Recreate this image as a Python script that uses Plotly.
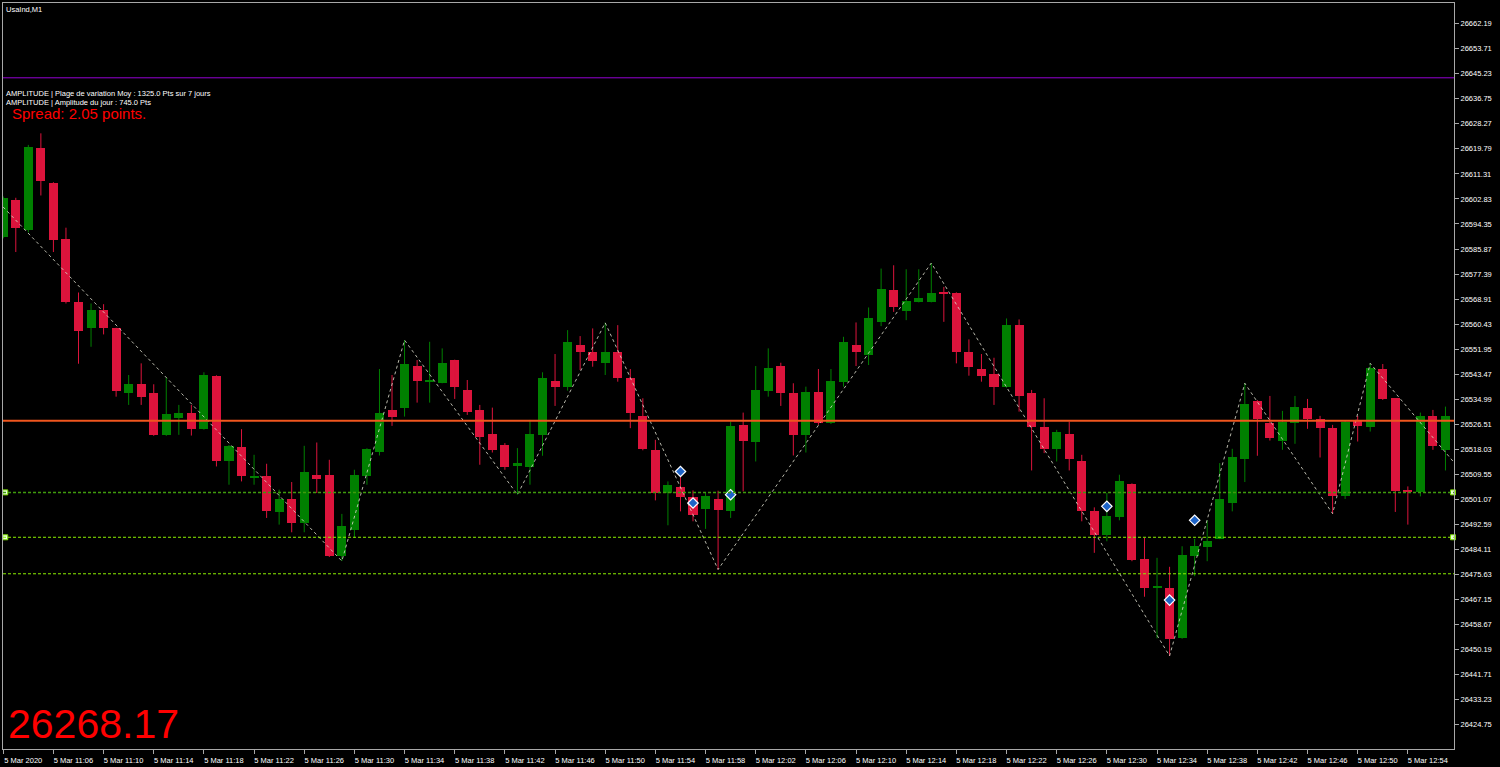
import plotly.graph_objects as go

# ---------------- data ----------------
opens = [26589.91, 26602.31, 26592.18, 26619.97, 26608.15, 26589.37, 26567.86, 26558.98, 26565.16, 26558.98,
         26537.02, 26540.06, 26537.02, 26522.94, 26528.78, 26530.27, 26524.97, 26542.97, 26513.92, 26518.78,
         26508.70, 26509.09, 26496.70, 26501.22, 26493.12, 26509.33, 26509.33, 26482.07, 26490.85, 26508.86,
         26517.09, 26531.38, 26531.96, 26546.24, 26541.18, 26540.60, 26548.27, 26538.14, 26531.38, 26523.18,
         26519.46, 26512.23, 26511.89, 26522.94, 26541.18, 26539.05, 26553.34, 26551.07, 26547.16, 26551.07,
         26542.09, 26529.36, 26517.87, 26503.25, 26505.27, 26501.89, 26497.84, 26501.22, 26497.03, 26526.32,
         26520.68, 26537.90, 26546.24, 26537.02, 26522.94, 26537.36, 26526.89, 26540.94, 26553.34, 26549.96,
         26561.21, 26572.15, 26564.92, 26567.96, 26567.96, 26571.17, 26571.00, 26551.07, 26545.13, 26543.54,
         26539.05, 26560.09, 26537.02, 26525.54, 26518.21, 26523.18, 26514.16, 26497.03, 26488.93, 26495.14,
         26506.39, 26481.06, 26471.36, 26471.16, 26454.04, 26481.83, 26485.01, 26487.81, 26499.87, 26514.83,
         26534.52, 26527.09, 26521.01, 26526.89, 26532.16, 26528.24, 26525.40, 26502.34, 26527.77, 26525.74,
         26545.13, 26535.33, 26504.36, 26503.45, 26529.36, 26517.87]
highs = [26603.66, 26603.22, 26621.12, 26625.04, 26608.49, 26593.09, 26571.14, 26567.42, 26567.18, 26559.20,
         26543.20, 26547.15, 26540.06, 26542.29, 26533.07, 26533.07, 26544.12, 26543.10, 26519.50, 26524.86,
         26516.18, 26513.14, 26504.36, 26506.96, 26519.22, 26520.34, 26514.49, 26496.16, 26511.12, 26518.40,
         26545.23, 26543.20, 26555.02, 26548.27, 26554.45, 26552.22, 26548.40, 26541.51, 26533.07, 26532.16,
         26520.14, 26518.45, 26528.00, 26544.12, 26550.30, 26558.40, 26556.38, 26558.98, 26560.87, 26560.09,
         26545.23, 26535.33, 26521.25, 26507.17, 26512.23, 26504.13, 26503.45, 26504.02, 26527.43, 26530.47,
         26546.24, 26552.22, 26547.36, 26540.40, 26539.25, 26545.23, 26545.23, 26556.14, 26561.00, 26566.07,
         26579.24, 26580.36, 26579.01, 26579.01, 26581.13, 26573.03, 26571.20, 26555.26, 26550.30, 26549.05,
         26562.35, 26562.02, 26538.14, 26535.33, 26524.63, 26527.43, 26516.18, 26498.38, 26503.25, 26509.43,
         26506.50, 26488.05, 26481.29, 26478.25, 26485.21, 26487.71, 26493.99, 26513.38, 26518.21, 26540.40,
         26534.70, 26536.11, 26531.04, 26536.11, 26535.10, 26529.36, 26526.32, 26527.60, 26529.36, 26547.15,
         26546.92, 26535.40, 26505.48, 26530.47, 26531.38, 26532.50]
lows = [26589.48, 26584.85, 26591.50, 26604.00, 26584.85, 26567.42, 26547.02, 26552.76, 26556.95, 26535.87,
        26533.07, 26533.07, 26522.60, 26522.60, 26522.94, 26522.70, 26524.70, 26512.23, 26506.05, 26507.17,
        26506.05, 26494.80, 26492.54, 26489.94, 26489.94, 26503.25, 26481.56, 26480.20, 26488.05, 26506.05,
        26515.95, 26525.98, 26529.12, 26533.85, 26533.85, 26540.40, 26535.10, 26529.69, 26512.81, 26516.96,
        26511.12, 26502.67, 26506.05, 26515.85, 26532.73, 26537.90, 26544.89, 26546.01, 26543.20, 26540.94,
        26525.20, 26517.70, 26500.75, 26492.31, 26497.03, 26493.66, 26491.09, 26477.34, 26494.80, 26503.79,
        26513.92, 26535.87, 26532.73, 26515.95, 26516.96, 26526.32, 26526.60, 26539.25, 26546.24, 26546.58,
        26559.75, 26564.58, 26561.78, 26567.80, 26567.80, 26561.21, 26547.15, 26542.97, 26540.94, 26533.07,
        26538.90, 26530.81, 26510.88, 26516.76, 26513.92, 26510.88, 26493.66, 26482.98, 26486.90, 26493.99,
        26480.15, 26468.12, 26454.04, 26448.06, 26453.90, 26475.08, 26480.15, 26487.60, 26497.03, 26506.96,
        26515.85, 26521.01, 26517.87, 26519.90, 26524.97, 26515.27, 26496.26, 26501.22, 26520.68, 26524.05,
        26534.76, 26496.83, 26492.54, 26502.10, 26517.87, 26510.88]
closes = [26603.22, 26593.09, 26620.31, 26609.06, 26589.04, 26567.96, 26558.17, 26565.16, 26558.98, 26537.80,
          26540.27, 26535.87, 26522.94, 26530.03, 26530.27, 26524.86, 26543.20, 26513.92, 26519.33, 26508.86,
          26508.90, 26497.03, 26501.22, 26493.12, 26510.20, 26508.08, 26481.83, 26492.20, 26509.43, 26518.11,
          26530.27, 26529.12, 26546.92, 26541.28, 26541.25, 26547.36, 26539.05, 26530.81, 26522.16, 26517.87,
          26511.89, 26513.38, 26523.18, 26542.09, 26539.05, 26554.25, 26551.07, 26548.03, 26551.07, 26542.09,
          26530.27, 26518.21, 26503.25, 26506.05, 26501.89, 26495.92, 26502.10, 26497.37, 26525.98, 26521.01,
          26538.14, 26545.47, 26537.02, 26522.94, 26537.36, 26527.09, 26541.18, 26554.25, 26551.07, 26562.35,
          26572.25, 26566.07, 26568.20, 26569.45, 26571.00, 26571.07, 26551.07, 26546.01, 26542.97, 26539.05,
          26560.09, 26536.21, 26525.74, 26518.11, 26523.85, 26514.83, 26497.03, 26488.93, 26495.34, 26507.17,
          26480.72, 26470.93, 26471.60, 26453.94, 26482.41, 26485.21, 26487.14, 26501.22, 26515.27, 26533.41,
          26528.24, 26521.82, 26527.43, 26532.50, 26528.24, 26525.40, 26502.10, 26527.43, 26525.98, 26545.47,
          26535.10, 26504.02, 26503.45, 26529.46, 26519.22, 26529.36]

# zigzag pivots (bar index, price)
zz_idx = [-1, 27, 32, 41, 48, 57, 74, 93, 99, 106, 109, 116]
zz_price = [26604.5, 26480.20, 26555.02, 26502.67, 26560.87, 26477.34, 26581.13, 26448.06, 26540.40,
            26496.26, 26547.15, 26512.0]

# signal arrows (bar index, price)
sig_idx = [54, 55, 58, 88, 93, 95]
sig_price = [26510.53, 26499.87, 26502.67, 26498.72, 26466.97, 26494.00]

# horizontal levels
level_purple = 26643.85
level_orange = 26527.70
level_green = [26503.45, 26488.25, 26475.89]

# axis ticks
x_tick_idx = list(range(0, 113, 4))
x_tick_text = ["5 Mar 2020", "5 Mar 11:06", "5 Mar 11:10", "5 Mar 11:14", "5 Mar 11:18", "5 Mar 11:22",
               "5 Mar 11:26", "5 Mar 11:30", "5 Mar 11:34", "5 Mar 11:38", "5 Mar 11:42", "5 Mar 11:46",
               "5 Mar 11:50", "5 Mar 11:54", "5 Mar 11:58", "5 Mar 12:02", "5 Mar 12:06", "5 Mar 12:10",
               "5 Mar 12:14", "5 Mar 12:18", "5 Mar 12:22", "5 Mar 12:26", "5 Mar 12:30", "5 Mar 12:34",
               "5 Mar 12:38", "5 Mar 12:42", "5 Mar 12:46", "5 Mar 12:50", "5 Mar 12:54"]
y_ticks = [26662.19, 26653.71, 26645.23, 26636.75, 26628.27, 26619.79, 26611.31, 26602.83, 26594.35,
           26585.87, 26577.39, 26568.91, 26560.43, 26551.95, 26543.47, 26534.99, 26526.51, 26518.03,
           26509.55, 26501.07, 26492.59, 26484.11, 26475.63, 26467.15, 26458.67, 26450.19, 26441.71,
           26433.23, 26424.75]

title_text = "UsaInd,M1"
info_lines = ["AMPLITUDE | Plage de variation Moy : 1325.0 Pts sur 7 jours",
              "AMPLITUDE | Amplitude du jour : 745.0 Pts"]
spread_text = "Spread: 2.05 points."
big_price_text = "26268.17"

# ---------------- styles ----------------
BULL = "#008000"
BEAR = "#DC143C"
AXIS = "#a8a8a8"
FONT = "Liberation Sans"
W, H = 1500, 767
ML, MR, MT, MB = 2, 46, 2, 17
MIN_BODY = 0.35

fig = go.Figure()

n = len(opens)
idx = list(range(n))
bull = [closes[i] >= opens[i] for i in idx]

# wicks
for is_bull, col in ((True, BULL), (False, BEAR)):
    wx, wy = [], []
    for i in idx:
        if bull[i] == is_bull:
            wx += [i, i, None]
            wy += [lows[i], highs[i], None]
    fig.add_trace(go.Scatter(x=wx, y=wy, mode="lines", line=dict(color=col, width=1),
                             hoverinfo="skip", showlegend=False))

# bodies
for is_bull, col in ((True, BULL), (False, BEAR)):
    bx, bb, bh = [], [], []
    for i in idx:
        if bull[i] == is_bull:
            lo = min(opens[i], closes[i])
            hgt = abs(closes[i] - opens[i])
            if hgt < MIN_BODY:
                lo -= (MIN_BODY - hgt) / 2
                hgt = MIN_BODY
            bx.append(i)
            bb.append(lo)
            bh.append(hgt)
    fig.add_trace(go.Bar(x=bx, y=bh, base=bb, width=0.72, marker=dict(color=col, line=dict(width=0)),
                         showlegend=False, hoverinfo="skip"))

# zigzag
fig.add_trace(go.Scatter(x=zz_idx, y=zz_price, mode="lines",
                         line=dict(color="rgba(215,215,200,0.85)", width=1, dash="dot"),
                         hoverinfo="skip", showlegend=False))

# level lines
shapes = [
    dict(type="line", xref="paper", x0=0, x1=1, yref="y", y0=level_purple, y1=level_purple,
         line=dict(color="#9400D3", width=1)),
    dict(type="line", xref="paper", x0=0, x1=1, yref="y", y0=level_orange, y1=level_orange,
         line=dict(color="#F0561E", width=2)),
    dict(type="line", xref="paper", x0=0, x1=1, yref="y", y0=level_green[0], y1=level_green[0],
         line=dict(color="#3f9a0c", width=1.5, dash="3px,2px")),
    dict(type="line", xref="paper", x0=0, x1=1, yref="y", y0=level_green[1], y1=level_green[1],
         line=dict(color="#8cf000", width=1, dash="3px,2px")),
    dict(type="line", xref="paper", x0=0, x1=1, yref="y", y0=level_green[2], y1=level_green[2],
         line=dict(color="#8cf000", width=1, dash="3px,2px")),
]

# level handles
fig.add_trace(go.Scatter(x=[0.16, 115.6, 0.16, 115.6],
                         y=[level_green[0], level_green[0], level_green[1], level_green[1]],
                         mode="markers", cliponaxis=False,
                         marker=dict(symbol="square", size=5, color="#e8ffd8",
                                     line=dict(color="#7cdc00", width=1)),
                         hoverinfo="skip", showlegend=False))

# signal arrows
fig.add_trace(go.Scatter(x=sig_idx, y=sig_price, mode="markers",
                         marker=dict(symbol="diamond", size=8, color="#1e64c8",
                                     line=dict(color="#ffffff", width=1.2)),
                         hoverinfo="skip", showlegend=False))

pw = W - ML - MR
ph = H - MT - MB


def px_x(p):
    return (p - ML) / pw


def px_y(p):
    return (H - MB - p) / ph


annotations = [
    dict(text=title_text, xref="paper", yref="paper", x=px_x(3), y=px_y(2), xanchor="left", yanchor="top",
         showarrow=False, font=dict(family=FONT, size=7.5, color="#ffffff")),
    dict(text=info_lines[0], xref="paper", yref="paper", x=px_x(3), y=px_y(86.5), xanchor="left",
         yanchor="top", showarrow=False, font=dict(family=FONT, size=7.5, color="#ffffff")),
    dict(text=info_lines[1], xref="paper", yref="paper", x=px_x(3), y=px_y(95.5), xanchor="left",
         yanchor="top", showarrow=False, font=dict(family=FONT, size=7.5, color="#ffffff")),
    dict(text=spread_text, xref="paper", yref="paper", x=px_x(9), y=px_y(102.5), xanchor="left",
         yanchor="top", showarrow=False, font=dict(family=FONT, size=15, color="#ff0000")),
    dict(text=big_price_text, xref="paper", yref="paper", x=px_x(5), y=px_y(750), xanchor="left",
         yanchor="bottom", showarrow=False, font=dict(family=FONT, size=41, color="#ff0000")),
]

fig.update_layout(
    width=W, height=H, autosize=False,
    margin=dict(l=ML, r=MR, t=MT, b=MB, pad=0),
    paper_bgcolor="#000000", plot_bgcolor="#000000",
    barmode="overlay", bargap=0,
    shapes=shapes, annotations=annotations,
    showlegend=False,
    xaxis=dict(range=[-0.02, 115.68], tickmode="array", tickvals=x_tick_idx, ticktext=x_tick_text,
               showgrid=False, zeroline=False, showline=True, mirror=True, linecolor=AXIS, linewidth=1,
               ticks="outside", ticklen=4, tickcolor=AXIS, tickwidth=1, ticklabelshift=20,
               tickfont=dict(family=FONT, size=7.5, color="#ffffff"), fixedrange=True),
    yaxis=dict(range=[26416.55, 26669.18], side="right", tickmode="array", tickvals=y_ticks,
               ticktext=[f"{v:.2f}" for v in y_ticks],
               showgrid=False, zeroline=False, showline=True, mirror=True, linecolor=AXIS, linewidth=1,
               ticks="outside", ticklen=4, tickcolor=AXIS, tickwidth=1,
               tickfont=dict(family=FONT, size=7.5, color="#ffffff"), fixedrange=True),
)

fig.write_html("out.html", config={"displayModeBar": False},
               post_script="document.body.style.margin='0px';document.body.style.overflow='hidden';"
                           "document.body.style.background='#000';")
